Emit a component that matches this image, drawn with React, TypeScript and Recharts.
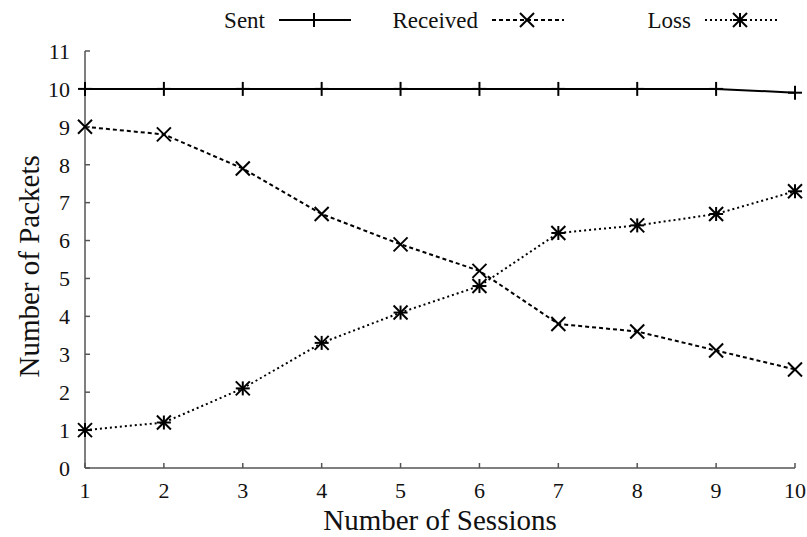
import { LineChart, Line, XAxis, YAxis } from 'recharts'

const sessions = [1, 2, 3, 4, 5, 6, 7, 8, 9, 10]
const sent = [10, 10, 10, 10, 10, 10, 10, 10, 10, 9.9]
const received = [9, 8.8, 7.9, 6.7, 5.9, 5.2, 3.8, 3.6, 3.1, 2.6]
const loss = [1, 1.2, 2.1, 3.3, 4.1, 4.8, 6.2, 6.4, 6.7, 7.3]
const xTicks = [1, 2, 3, 4, 5, 6, 7, 8, 9, 10]
const yTicks = [0, 1, 2, 3, 4, 5, 6, 7, 8, 9, 10, 11]

const data = sessions.map((s, i) => ({ s, sent: sent[i], received: received[i], loss: loss[i] }))

const FONT = '"Liberation Serif", "DejaVu Serif", serif'
const FRAME = '#555'
const R = 7

type Kind = 'plus' | 'cross' | 'star'

function marker(kind: Kind, cx: number, cy: number, key?: string) {
  const plus = (
    <>
      <line x1={cx - R} y1={cy} x2={cx + R} y2={cy} />
      <line x1={cx} y1={cy - R} x2={cx} y2={cy + R} />
    </>
  )
  const cross = (
    <>
      <line x1={cx - R} y1={cy - R} x2={cx + R} y2={cy + R} />
      <line x1={cx - R} y1={cy + R} x2={cx + R} y2={cy - R} />
    </>
  )
  return (
    <g key={key} stroke="#000" strokeWidth={2}>
      {kind !== 'cross' && plus}
      {kind !== 'plus' && cross}
    </g>
  )
}

const dotFor = (kind: Kind) => (props: any) => {
  const { cx, cy, index } = props
  return marker(kind, cx, cy, `${kind}-${index}`)
}

const legendItems: { label: string; kind: Kind; dash?: string; textRight: number }[] = [
  { label: 'Sent', kind: 'plus', textRight: 265 },
  { label: 'Received', kind: 'cross', dash: '4 3', textRight: 478 },
  { label: 'Loss', kind: 'star', dash: '2 3', textRight: 691 },
]

// legend drawn as an overlay so it doesn't shift the plot area
const LegendOverlay = () => (
  <svg width={807} height={40} style={{ position: 'absolute', left: 0, top: 0 }}>
    {legendItems.map(it => (
      <g key={it.label}>
        <text x={it.textRight} y={28} textAnchor="end" fontFamily={FONT} fontSize={23} fill="#111">
          {it.label}
        </text>
        <line x1={it.textRight + 14} y1={20} x2={it.textRight + 86} y2={20}
          stroke="#000" strokeWidth={2} strokeDasharray={it.dash} />
        {marker(it.kind, it.textRight + 49, 20)}
      </g>
    ))}
  </svg>
)

const tickStyle = { fontFamily: FONT, fontSize: 22, fill: '#111' }
const frameLine = { stroke: FRAME, strokeWidth: 1.5 }

export default function App() {
  return (
    <div style={{ position: 'absolute', left: 0, top: 0, width: 807, height: 537, background: '#fff' }}>
      <LineChart width={807} height={537} data={data}
        margin={{ top: 51, right: 12, bottom: 39, left: 25 }}>
        <XAxis xAxisId="b" dataKey="s" type="number" domain={[1, 10]} ticks={xTicks}
          height={30} tick={tickStyle} tickSize={-5} tickMargin={19}
          stroke={FRAME} axisLine={frameLine} tickLine={frameLine}
          label={{ value: 'Number of Sessions', position: 'insideBottom', offset: -32, style: { fontFamily: FONT, fontSize: 29, fill: '#111' } }} />
        <XAxis xAxisId="t" orientation="top" dataKey="s" type="number" domain={[1, 10]} ticks={xTicks}
          height={0} tick={false} tickSize={-5} axisLine={frameLine} tickLine={frameLine} />
        <YAxis yAxisId="l" type="number" domain={[0, 11]} ticks={yTicks} interval={0}
          width={60} tick={tickStyle} tickSize={-5} tickMargin={20}
          axisLine={frameLine} tickLine={frameLine}
          label={{ value: 'Number of Packets', angle: -90, position: 'insideLeft', offset: 0, dx: 4, dy: 118, style: { fontFamily: FONT, fontSize: 29, fill: '#111' } }} />
        <YAxis yAxisId="r" orientation="right" type="number" domain={[0, 11]} ticks={yTicks} interval={0}
          width={0} tick={false} tickSize={-5} axisLine={frameLine} tickLine={frameLine} />
        <Line xAxisId="b" yAxisId="l" type="linear" dataKey="sent" stroke="#000" strokeWidth={2}
          dot={dotFor('plus')} activeDot={false} isAnimationActive={false} />
        <Line xAxisId="b" yAxisId="l" type="linear" dataKey="received" stroke="#000" strokeWidth={2}
          strokeDasharray="4 3" dot={dotFor('cross')} activeDot={false} isAnimationActive={false} />
        <Line xAxisId="b" yAxisId="l" type="linear" dataKey="loss" stroke="#000" strokeWidth={2}
          strokeDasharray="2 3" dot={dotFor('star')} activeDot={false} isAnimationActive={false} />
      </LineChart>
      <LegendOverlay />
    </div>
  )
}
